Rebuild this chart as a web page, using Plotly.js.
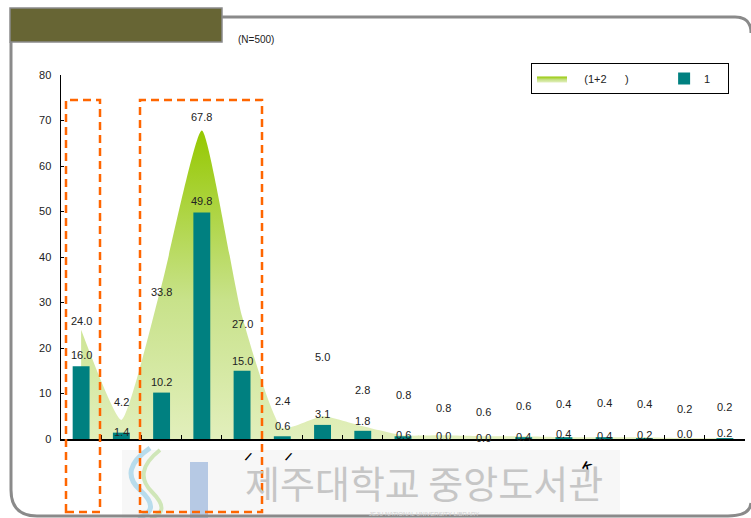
<!DOCTYPE html>
<html>
<head>
<meta charset="utf-8">
<script src="https://cdn.plot.ly/plotly-3.0.1.min.js"></script>
<style>
  html, body { margin: 0; padding: 0; background: #ffffff; }
  #chart { width: 751px; height: 518px; }
</style>
</head>
<body>
<div id="chart"></div>
<script>
// ---- data ----
const categories = ["c1","c2","c3","c4","c5","c6","c7","c8","c9","c10","c11","c12","c13","c14","c15","c16","c17"];
const NB = "\u00a0";
const tickLabels = ["","","","",NB.repeat(2)+"/",NB.repeat(2)+"/","","","","","","",NB.repeat(7)+"K","","","",""];
const cumulativeValues = [24.0, 4.2, 33.8, 67.8, 27.0, 2.4, 5.0, 2.8, 0.8, 0.8, 0.6, 0.6, 0.4, 0.4, 0.4, 0.2, 0.2];
const firstValues = [16.0, 1.4, 10.2, 49.8, 15.0, 0.6, 3.1, 1.8, 0.6, 0.0, 0.0, 0.4, 0.4, 0.4, 0.2, 0.0, 0.2];
const seriesNames = [NB.repeat(4) + "(1+2" + NB.repeat(6) + ")" + NB.repeat(10), "1" + NB.repeat(4)];
const sampleNote = "(N=500)";
const watermarkText = "제주대학교 중앙도서관";
const watermarkSub = "JEJU NATIONAL UNIVERSITY LIBRARY";

// label offsets (pixels above the value) as drawn in the reference
const areaLabelShift = [9, 18, -7, 14, -8, 27, 59, 36, 40, 27, 24, 30, 33, 34, 33, 29, 31];
const barLabelShift  = [11, 1, 11, 11, 10, 10, 11, 10, 1, 3, 1, 0, 3, 1, 3, 5, 5];

// ---- geometry helpers (pixel -> paper) ----
const W = 751, H = 518, L = 61, R = 6, T = 75, B = 79;
const PW = W - L - R, PH = H - T - B;
const px = x => (x - L) / PW;
const py = y => (H - B - y) / PH;
const pt = (x, y) => px(x).toFixed(4) + "," + py(y).toFixed(4);

const FONT = "Liberation Sans, Arial, sans-serif";

const areaTrace = {
  type: "scatter",
  x: categories,
  y: cumulativeValues,
  name: seriesNames[0],
  mode: "lines",
  line: { width: 0, shape: "spline", smoothing: 0.5, color: "#b5d94a" },
  fill: "tozeroy",
  fillcolor: "#b9da5e",
  fillgradient: {
    type: "vertical",
    start: 0,
    stop: 68,
    colorscale: [[0, "#e2efbc"], [0.45, "#c8e28a"], [1, "#95c800"]]
  },
  xaxis: "x",
  yaxis: "y",
  hoverinfo: "skip"
};

const barTrace = {
  type: "bar",
  x: categories,
  y: firstValues,
  name: seriesNames[1],
  marker: { color: "#008080" },
  width: 0.42,
  xaxis: "x2",
  yaxis: "y",
  hoverinfo: "skip"
};

const annotations = [];
categories.forEach((c, i) => {
  annotations.push({
    x: c, y: cumulativeValues[i], xref: "x", yref: "y",
    text: cumulativeValues[i].toFixed(1), showarrow: false,
    yshift: areaLabelShift[i], yanchor: "middle",
    font: { family: FONT, size: 11, color: "#222" }
  });
  annotations.push({
    x: c, y: firstValues[i], xref: "x", yref: "y",
    text: firstValues[i].toFixed(1), showarrow: false,
    yshift: barLabelShift[i], yanchor: "middle",
    font: { family: FONT, size: 11, color: "#222" }
  });
});
annotations.push({
  xref: "paper", yref: "paper", x: px(256), y: py(40),
  text: sampleNote, showarrow: false, xanchor: "center", yanchor: "middle",
  font: { family: FONT, size: 10, color: "#222" }
});
annotations.push({
  xref: "paper", yref: "paper", x: px(424), y: py(481),
  text: watermarkText, showarrow: false, xanchor: "center", yanchor: "middle",
  font: { family: "Noto Sans CJK KR, sans-serif", size: 38, color: "#c6c6c6" }
});
annotations.push({
  xref: "paper", yref: "paper", x: px(424), y: py(514),
  text: watermarkSub, showarrow: false, xanchor: "center", yanchor: "middle",
  font: { family: FONT, size: 6, color: "#d0d0d0" }
});

const shapes = [
  // faint watermark backdrop
  { type: "rect", xref: "paper", yref: "paper", x0: px(122), x1: px(620), y0: py(450), y1: py(518),
    fillcolor: "#f7f7f7", line: { width: 0 }, layer: "below" },
  // logo swirl
  { type: "path", xref: "paper", yref: "paper",
    path: "M" + pt(150, 448) + " Q" + pt(118, 470) + " " + pt(140, 490) + " T" + pt(138, 518),
    line: { color: "#b8dcec", width: 5 } },
  { type: "path", xref: "paper", yref: "paper",
    path: "M" + pt(160, 450) + " Q" + pt(132, 472) + " " + pt(152, 492) + " T" + pt(150, 518),
    line: { color: "#cfe6b8", width: 4 } },
  // logo bar
  { type: "rect", xref: "paper", yref: "paper", x0: px(190), x1: px(208), y0: py(518), y1: py(462),
    fillcolor: "#b6c9e4", line: { width: 0 } },
  // frame
  { type: "path", xref: "paper", yref: "paper",
    path: "M" + pt(222, 17) + " L" + pt(735, 17) + " Q" + pt(751, 17) + " " + pt(751, 33),
    line: { color: "#8a8a8a", width: 3 } },
  { type: "path", xref: "paper", yref: "paper",
    path: "M" + pt(11, 42) + " L" + pt(11, 490) + " Q" + pt(11, 516) + " " + pt(37, 516) +
          " L" + pt(728, 516) + " Q" + pt(750, 516) + " " + pt(751, 503),
    line: { color: "#8a8a8a", width: 3 } },
  // header box
  { type: "rect", xref: "paper", yref: "paper", x0: px(10), x1: px(222), y0: py(42), y1: py(8),
    fillcolor: "#676534", line: { color: "#8a8a8a", width: 1.5 } },
  // orange dashed highlight boxes
  { type: "rect", xref: "paper", yref: "paper", x0: px(66), x1: px(100), y0: py(512), y1: py(100),
    line: { color: "#ff6600", width: 2.5, dash: "8px,5px" } },
  { type: "rect", xref: "paper", yref: "paper", x0: px(140), x1: px(262), y0: py(512), y1: py(100),
    line: { color: "#ff6600", width: 2.5, dash: "8px,5px" } }
];

const layout = {
  width: W, height: H,
  margin: { l: L, r: R, t: T, b: B, pad: 0, autoexpand: false },
  paper_bgcolor: "#ffffff",
  plot_bgcolor: "rgba(0,0,0,0)",
  showlegend: true,
  legend: {
    orientation: "h",
    x: px(531), xanchor: "left",
    y: py(63), yanchor: "top",
    bgcolor: "#ffffff",
    bordercolor: "#000000", borderwidth: 1,
    font: { family: FONT, size: 11, color: "#222" },
    itemwidth: 30,
    traceorder: "normal"
  },
  xaxis: {
    type: "category",
    categoryorder: "array", categoryarray: categories,
    tickvals: categories, ticktext: tickLabels,
    tickson: "boundaries",
    range: [-0.5, 16.5],
    ticks: "inside", ticklen: 4, tickcolor: "#000", tickwidth: 1,
    showline: true, linecolor: "#000", linewidth: 1.5,
    showgrid: false, zeroline: false,
    ticklabelstandoff: 2,
    tickfont: { family: "Liberation Sans, Arial, sans-serif", size: 12, color: "#000", weight: "bold" },
    fixedrange: true
  },
  xaxis2: {
    type: "category",
    categoryorder: "array", categoryarray: categories,
    overlaying: "x",
    range: [-0.5, 16.5],
    visible: false,
    showgrid: false, zeroline: false,
    fixedrange: true
  },
  yaxis: {
    range: [0, 80], dtick: 10,
    ticks: "inside", ticklen: 3, tickcolor: "#000",
    showline: true, linecolor: "#000", linewidth: 1.5,
    showgrid: false, zeroline: false,
    ticklabelstandoff: 6,
    tickfont: { family: FONT, size: 11, color: "#222" },
    fixedrange: true
  },
  annotations: annotations,
  shapes: shapes
};

Plotly.newPlot("chart", [areaTrace, barTrace], layout, { staticPlot: true, displayModeBar: false });
</script>
</body>
</html>
